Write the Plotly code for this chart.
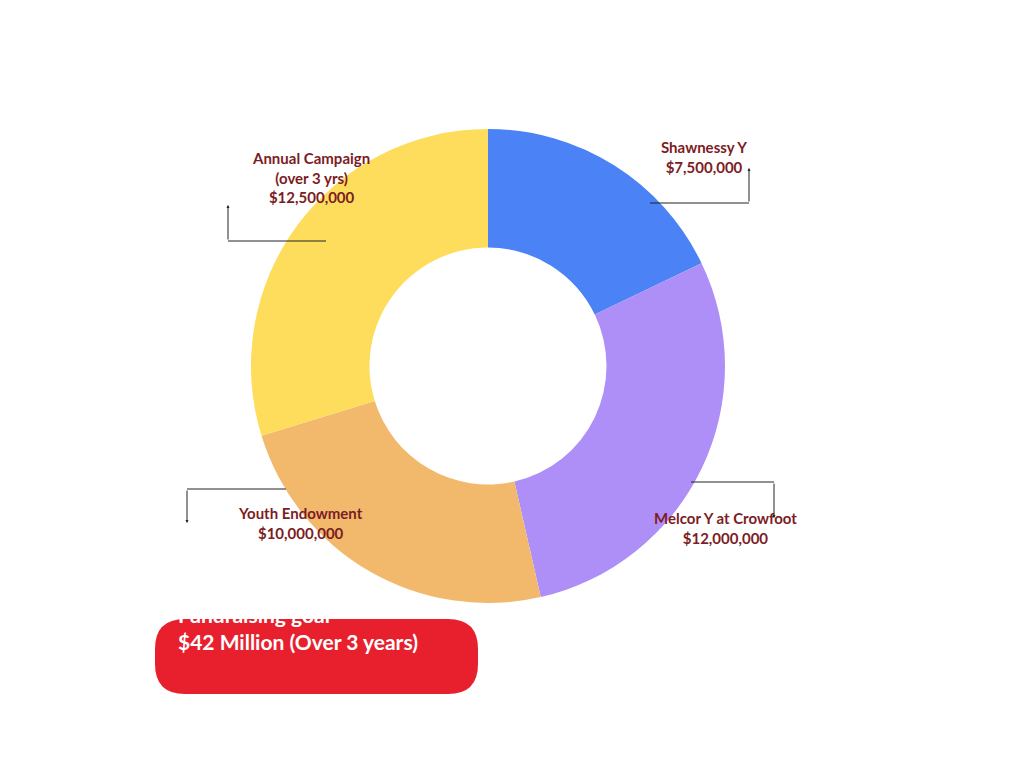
import plotly.graph_objects as go

labels = ["Shawnessy Y", "Melcor Y at Crowfoot", "Youth Endowment", "Annual Campaign<br>(over 3 yrs)"]
values = [7500000, 12000000, 10000000, 12500000]
colors = ["#4b82f5", "#ae8ef7", "#f2b96c", "#fedc5c"]

W, H = 1024, 768
def px(x): return x / W
def py(y): return 1 - y / H

fig = go.Figure(go.Pie(
    labels=labels, values=values, hole=0.5, sort=False, direction="clockwise",
    rotation=0, marker=dict(colors=colors), textinfo="none", hoverinfo="label+value",
    domain=dict(x=[px(243), px(717)], y=[py(595), py(121)]), showlegend=False))

red = "#7c1c24"
font = dict(family="Lato", size=15, color=red)
txt = [f"<b>{l}<br>${v:,.0f}</b>" for l, v in zip(labels, values)]
pos = [(741, 128), (791, 541), (228, 536), (242, 139)]
for t, (x, y) in zip(txt, pos):
    fig.add_annotation(x=px(x), y=py(y), xref="paper", yref="paper", text=t,
                       showarrow=False, font=font, align="center")

lines = [
    [(642, 195), (741, 195), (741, 160)],
    [(318, 233), (220, 233), (220, 197)],
    [(278, 481), (179, 481), (179, 515)],
    [(683, 474), (766, 474), (766, 510)],
]
for pts in lines:
    (x0, y0), (x1, y1), (x2, y2) = pts
    fig.add_shape(type="line", xref="paper", yref="paper", x0=px(x0), y0=py(y0),
                  x1=px(x1), y1=py(y1), line=dict(color="#222", width=1))
    fig.add_annotation(x=px(x2), y=py(y2), ax=x1 - x2, ay=y1 - y2, xref="paper", yref="paper",
                       axref="pixel", ayref="pixel", text="", showarrow=True,
                       arrowhead=2, arrowsize=0.6, arrowwidth=1, arrowcolor="#222")

# rounded red box
x0, x1, y0, y1, r = 147, 470, 611, 686, 30
path = (f"M {px(x0+r)} {py(y0)} L {px(x1-r)} {py(y0)} Q {px(x1)} {py(y0)} {px(x1)} {py(y0+r)} "
        f"L {px(x1)} {py(y1-r)} Q {px(x1)} {py(y1)} {px(x1-r)} {py(y1)} "
        f"L {px(x0+r)} {py(y1)} Q {px(x0)} {py(y1)} {px(x0)} {py(y1-r)} "
        f"L {px(x0)} {py(y0+r)} Q {px(x0)} {py(y0)} {px(x0+r)} {py(y0)} Z")
fig.add_shape(type="path", xref="paper", yref="paper", path=path,
              fillcolor="#e8202e", line=dict(width=0))
fig.add_annotation(x=px(168), y=py(648), xref="paper", yref="paper", xanchor="left",
                   text="<b>Fundraising goal<br>$42 Million (Over 3 years)</b>",
                   showarrow=False, align="left",
                   font=dict(family="Lato", size=21, color="white"))

fig.update_layout(width=W, height=H, margin=dict(l=0, r=0, t=0, b=0),
                  paper_bgcolor="white", plot_bgcolor="white")
fig.write_html("out.html")
